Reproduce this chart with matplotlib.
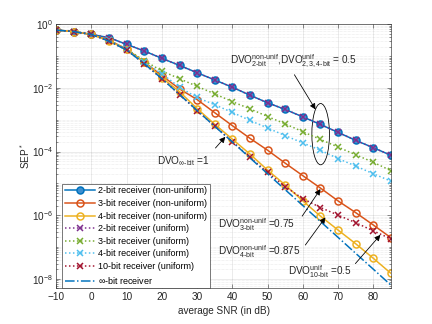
import numpy as np
import matplotlib
matplotlib.use("Agg")
import matplotlib.pyplot as plt
from matplotlib.patches import Ellipse
from matplotlib.ticker import LogLocator, NullFormatter

plt.rcParams['font.family'] = ['Liberation Sans', 'DejaVu Sans']
plt.rcParams['mathtext.fontset'] = 'custom'
plt.rcParams['mathtext.rm'] = 'Liberation Sans'
plt.rcParams['mathtext.it'] = 'Liberation Sans:italic'

### Data ###
snr_db = [-10, -5, 0, 5, 10, 15, 20, 25, 30, 35, 40, 45, 50, 55, 60, 65, 70, 75, 80, 85]

sep_2bit_nonunif = [0.66, 0.59, 0.48, 0.38, 0.234, 0.145, 0.085, 0.051, 0.030, 0.0178,
                    0.0105, 5.9e-3, 3.4e-3, 2.1e-3, 1.23e-3, 7.1e-4, 4.0e-4, 2.24e-4, 1.32e-4, 7.6e-5]
sep_3bit_nonunif = [0.66, 0.59, 0.48, 0.316, 0.166, 0.065, 0.0245, 9.3e-3, 4.3e-3, 1.66e-3,
                    6.5e-4, 2.6e-4, 1.1e-4, 4.3e-5, 1.74e-5, 7.1e-6, 2.8e-6, 1.2e-6, 4.9e-7, 1.95e-7]
sep_4bit_nonunif = [0.66, 0.59, 0.48, 0.30, 0.162, 0.065, 0.0209, 7.6e-3, 2.24e-3, 7.2e-4,
                    2.45e-4, 8.3e-5, 2.6e-5, 8.9e-6, 2.8e-6, 9.3e-7, 3.4e-7, 1.26e-7, 4.4e-8, 1.48e-8]
sep_2bit_unif = [0.66, 0.59, 0.48, 0.38, 0.234, 0.145, 0.085, 0.051, 0.030, 0.0178,
                 0.0105, 5.9e-3, 3.4e-3, 2.1e-3, 1.23e-3, 7.1e-4, 4.0e-4, 2.24e-4, 1.32e-4, 7.6e-5]
sep_3bit_unif = [0.66, 0.59, 0.48, 0.316, 0.166, 0.072, 0.034, 0.0195, 0.0112, 6.5e-3,
                 3.7e-3, 2.2e-3, 1.26e-3, 7.4e-4, 4.2e-4, 2.4e-4, 1.38e-4, 7.9e-5, 4.6e-5, 2.5e-5]
sep_4bit_unif = [0.66, 0.59, 0.48, 0.31, 0.162, 0.063, 0.028, 0.0105, 5.0e-3, 2.95e-3,
                 1.7e-3, 9.5e-4, 5.5e-4, 3.16e-4, 1.86e-4, 1.1e-4, 6.0e-5, 3.5e-5, 2.0e-5, 1.17e-5]
sep_10bit_unif = [0.66, 0.59, 0.48, 0.295, 0.155, 0.0575, 0.0195, 6.2e-3, 1.95e-3, 6.2e-4,
                  2.05e-4, 6.5e-5, 2.2e-5, 7.9e-6, 3.3e-6, 1.74e-6, 1.0e-6, 5.8e-7, 3.2e-7, 1.8e-7]
sep_inf = [0.66, 0.59, 0.48, 0.295, 0.155, 0.0575, 0.0195, 6.2e-3, 1.95e-3, 6.2e-4,
           2.0e-4, 6.3e-5, 2.0e-5, 6.3e-6, 2.0e-6, 6.3e-7, 2.0e-7, 6.3e-8, 2.0e-8, 6.3e-9]

labels = [
    "2-bit receiver (non-uniform)",
    "3-bit receiver (non-uniform)",
    "4-bit receiver (non-uniform)",
    "2-bit receiver (uniform)",
    "3-bit receiver (uniform)",
    "4-bit receiver (uniform)",
    "10-bit receiver (uniform)",
    "$\\infty$-bit receiver",
]

### Plot ###
fig = plt.figure(figsize=(6, 4.5), dpi=72)
ax = fig.add_axes([0.13, 0.11, 0.775, 0.815])

lw = 1.5
ax.plot(snr_db, sep_2bit_nonunif, '-o', color='#0072BD', lw=lw, ms=7, mew=1.5,
        mfc='#3d8fd0', label=labels[0])
ax.plot(snr_db, sep_3bit_nonunif, '-o', color='#D95319', lw=lw, ms=7, mew=1.5,
        mfc='none', label=labels[1])
ax.plot(snr_db, sep_4bit_nonunif, '-o', color='#EDB120', lw=lw, ms=7, mew=1.5,
        mfc='none', label=labels[2])
ax.plot(snr_db, sep_2bit_unif, ':x', color='#7E2F8E', lw=lw, ms=6, mew=1.5, label=labels[3])
ax.plot(snr_db, sep_3bit_unif, ':x', color='#77AC30', lw=lw, ms=6, mew=1.5, label=labels[4])
ax.plot(snr_db, sep_4bit_unif, ':x', color='#4DBEEE', lw=lw, ms=6, mew=1.5, label=labels[5])
ax.plot(snr_db, sep_10bit_unif, ':x', color='#A2142F', lw=lw, ms=6, mew=1.5, label=labels[6])
ax.plot(snr_db, sep_inf, '-.', color='#0072BD', lw=lw, label=labels[7])

ax.set_yscale('log')
ax.set_xlim(-10, 85)
ax.set_ylim(5e-9, 1)
ax.set_xticks([-10, 0, 10, 20, 30, 40, 50, 60, 70, 80])
ax.set_yticks([1e-8, 1e-6, 1e-4, 1e-2, 1])
ax.yaxis.set_minor_locator(LogLocator(base=10, subs=np.arange(1, 10), numticks=30))
ax.yaxis.set_minor_formatter(NullFormatter())

ax.grid(True, which='major', color='#262626', alpha=0.15, lw=0.6)
ax.grid(True, which='minor', axis='y', color='#262626', alpha=0.2, lw=0.5, ls=':')
ax.tick_params(which='both', direction='in', top=True, right=True, colors='#262626',
               labelsize=10, width=0.5)
ax.tick_params(which='major', length=4)
ax.tick_params(which='minor', length=2)
for s in ax.spines.values():
    s.set_color('#262626')
    s.set_linewidth(0.6)

ax.set_xlabel("average SNR (in dB)", fontsize=10, color='#262626')
ax.set_ylabel("SEP$^*$", fontsize=10, color='#262626', labelpad=0)

leg = ax.legend(loc='lower left', bbox_to_anchor=(0.017, 0.0), borderaxespad=0,
                fontsize=9, handlelength=3.4, handletextpad=0.3, labelspacing=0.4,
                borderpad=0.3, numpoints=1, fancybox=False, framealpha=1,
                edgecolor='#262626')
leg.get_frame().set_linewidth(0.6)

### Annotations ###
arrow = dict(arrowstyle='-|>', color='k', lw=0.8, mutation_scale=12, shrinkA=0, shrinkB=0)
txt = dict(fontsize=10, color='#262626', va='center', ha='left')

ax.text(39.4, 0.068, "DVO$^{\\mathrm{non\u2010unif}}_{\\mathrm{2\u2010bit}}$,"
        "DVO$^{\\mathrm{unif}}_{\\mathrm{2,3,4\u2010bit}}$ = 0.5", **txt)
ax.annotate('', xy=(63.6, 2.1e-3), xytext=(57.6, 0.026), arrowprops=arrow)
ax.add_patch(Ellipse((0.79, 0.584), 0.0525, 0.232, transform=ax.transAxes,
                     fill=False, lw=0.8, color='k'))

ax.text(18.7, 5.1e-5, "DVO$_{\\mathrm{\\infty\u2010bit}}$ =1", **txt)
ax.annotate('', xy=(38.0, 2.9e-4), xytext=(35.2, 1.29e-4), arrowprops=arrow)

ax.text(36.0, 4.9e-7, "DVO$^{\\mathrm{non\u2010unif}}_{\\mathrm{3\u2010bit}}$ =0.75", **txt)
ax.annotate('', xy=(65.0, 6.6e-6), xytext=(59.8, 9.3e-7), arrowprops=arrow)

ax.text(36.0, 7.4e-8, "DVO$^{\\mathrm{non\u2010unif}}_{\\mathrm{4\u2010bit}}$ =0.875", **txt)
ax.annotate('', xy=(66.4, 8.5e-7), xytext=(60.7, 1.15e-7), arrowprops=arrow)

ax.text(55.9, 1.74e-8, "DVO$^{\\mathrm{unif}}_{\\mathrm{10\u2010bit}}$ =0.5", **txt)
ax.annotate('', xy=(82.0, 2.4e-7), xytext=(74.9, 3.0e-8), arrowprops=arrow)

fig.savefig("out.png", dpi=72, facecolor='white')
